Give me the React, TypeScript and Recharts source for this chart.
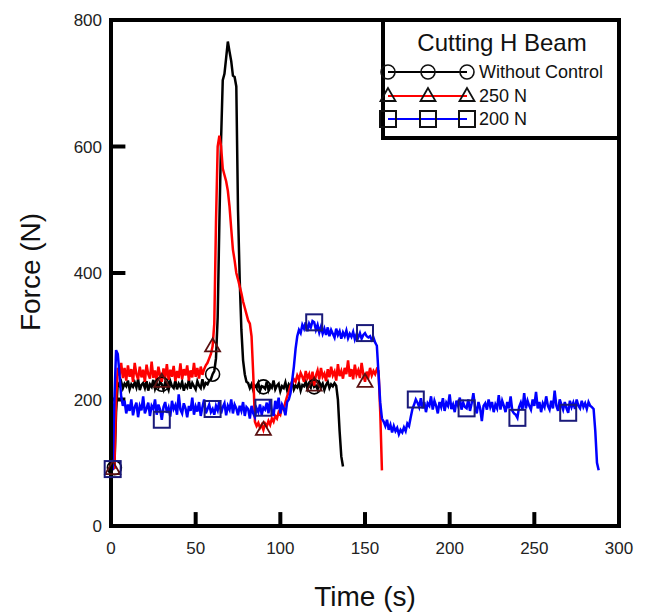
import React from 'react';
import { LineChart, Line, XAxis, YAxis, ReferenceArea, ReferenceLine, Customized } from 'recharts';

const xTicks = [0, 50, 100, 150, 200, 250, 300];
const yTicks = [0, 200, 400, 600, 800];
const xInnerTicks = [50, 100, 150, 200, 250];
const yInnerTicks = [200, 400, 600];

const blackPairs: [number, number][] = [
  [0, 90], [1, 90], [2, 92], [3, 180], [4, 226], [5, 222], [6, 228], [7, 218], [8, 225], [9, 221],
  [10, 230], [11, 216], [12, 224], [13, 220], [14, 227], [15, 219], [16, 232], [17, 215], [18, 223], [19, 226],
  [20, 218], [21, 229], [22, 214], [23, 224], [24, 220], [25, 231], [26, 217], [27, 225], [28, 219], [29, 228],
  [30, 224], [31, 216], [32, 227], [33, 222], [34, 215], [35, 229], [36, 221], [37, 218], [38, 230], [39, 216],
  [40, 225], [41, 220], [42, 228], [43, 214], [44, 223], [45, 219], [46, 231], [47, 217], [48, 226], [49, 221],
  [50, 216], [51, 229], [52, 222], [53, 218], [54, 232], [55, 220], [56, 226], [57, 224], [58, 230], [59, 232],
  [60, 240], [61, 245], [62, 265], [63, 330], [64, 480], [65, 610], [66, 705], [67, 715], [68, 740], [69, 766],
  [70, 750], [71, 735], [72, 712], [73, 710], [74, 695], [75, 500], [76, 390], [77, 310], [78, 262], [79, 240],
  [80, 228], [81, 226], [82, 218], [83, 224], [84, 215], [85, 222], [86, 219], [87, 226], [88, 214], [89, 221],
  [90, 220], [91, 217], [92, 228], [93, 215], [94, 223], [95, 219], [96, 230], [97, 216], [98, 222], [99, 225],
  [100, 213], [101, 221], [102, 218], [103, 227], [104, 215], [105, 224], [106, 220], [107, 229], [108, 216], [109, 222],
  [110, 219], [111, 226], [112, 214], [113, 223], [114, 221], [115, 228], [116, 217], [117, 224], [118, 219], [119, 230],
  [120, 220], [121, 222], [122, 216], [123, 227], [124, 220], [125, 225], [126, 215], [127, 223], [128, 228], [129, 218],
  [130, 224], [131, 221], [132, 226], [133, 222], [134, 200], [135, 150], [136, 110], [137, 94],
];

const redPairs: [number, number][] = [
  [0, 90], [1, 90], [2, 92], [3, 200], [4, 250], [5, 238], [6, 258], [7, 234], [8, 250], [9, 230],
  [10, 254], [11, 236], [12, 248], [13, 228], [14, 258], [15, 240], [16, 232], [17, 252], [18, 235], [19, 247],
  [20, 228], [21, 255], [22, 240], [23, 233], [24, 260], [25, 234], [26, 246], [27, 229], [28, 252], [29, 238],
  [30, 228], [31, 249], [32, 234], [33, 256], [34, 231], [35, 247], [36, 236], [37, 253], [38, 229], [39, 245],
  [40, 234], [41, 257], [42, 232], [43, 248], [44, 238], [45, 254], [46, 230], [47, 246], [48, 235], [49, 258],
  [50, 236], [51, 250], [52, 233], [53, 252], [54, 239], [55, 248], [56, 254], [57, 258], [58, 265], [59, 272],
  [60, 284], [61, 320], [62, 480], [63, 600], [64, 617], [65, 600], [66, 565], [67, 555], [68, 545], [69, 530],
  [70, 505], [71, 470], [72, 437], [73, 420], [74, 400], [75, 390], [76, 379], [77, 368], [78, 355], [79, 345],
  [80, 335], [81, 325], [82, 320], [83, 300], [84, 240], [85, 165], [86, 158], [87, 163], [88, 155], [89, 160],
  [90, 152], [91, 162], [92, 158], [93, 166], [94, 160], [95, 170], [96, 165], [97, 174], [98, 170], [99, 180],
  [100, 176], [101, 188], [102, 185], [103, 196], [104, 205], [105, 212], [106, 222], [107, 226], [108, 232], [109, 228],
  [110, 238], [111, 232], [112, 242], [113, 236], [114, 228], [115, 245], [116, 234], [117, 240], [118, 226], [119, 244],
  [120, 222], [121, 238], [122, 246], [123, 232], [124, 250], [125, 236], [126, 241], [127, 229], [128, 248], [129, 235],
  [130, 252], [131, 238], [132, 244], [133, 230], [134, 256], [135, 237], [136, 245], [137, 233], [138, 250], [139, 240],
  [140, 262], [141, 236], [142, 248], [143, 232], [144, 255], [145, 239], [146, 246], [147, 234], [148, 258], [149, 240],
  [150, 228], [151, 244], [152, 236], [153, 250], [154, 238], [155, 245], [156, 240], [157, 248], [158, 245], [159, 180],
  [160, 88],
];

const bluePairs: [number, number][] = [
  [0, 90], [1, 90], [2, 200], [3, 278], [4, 272], [5, 240], [6, 205], [7, 190], [8, 198], [9, 178],
  [10, 192], [11, 182], [12, 200], [13, 175], [14, 188], [15, 195], [16, 172], [17, 190], [18, 183], [19, 205],
  [20, 178], [21, 186], [22, 195], [23, 174], [24, 190], [25, 185], [26, 200], [27, 176], [28, 192], [29, 184],
  [30, 168], [31, 188], [32, 196], [33, 179], [34, 187], [35, 173], [36, 198], [37, 185], [38, 191], [39, 176],
  [40, 208], [41, 184], [42, 178], [43, 194], [44, 186], [45, 172], [46, 190], [47, 182], [48, 203], [49, 176],
  [50, 189], [51, 181], [52, 196], [53, 174], [54, 188], [55, 200], [56, 178], [57, 185], [58, 192], [59, 180],
  [60, 185], [61, 176], [62, 190], [63, 183], [64, 198], [65, 178], [66, 188], [67, 194], [68, 175], [69, 190],
  [70, 184], [71, 200], [72, 178], [73, 192], [74, 186], [75, 175], [76, 190], [77, 182], [78, 196], [79, 174],
  [80, 188], [81, 185], [82, 170], [83, 190], [84, 178], [85, 172], [86, 186], [87, 180], [88, 192], [89, 176],
  [90, 187], [91, 184], [92, 195], [93, 178], [94, 200], [95, 182], [96, 174], [97, 198], [98, 185], [99, 203],
  [100, 178], [101, 192], [102, 186], [103, 175], [104, 196], [105, 200], [106, 210], [107, 230], [108, 252], [109, 280],
  [110, 300], [111, 310], [112, 305], [113, 318], [114, 312], [115, 322], [116, 308], [117, 320], [118, 314], [119, 324],
  [120, 322], [121, 310], [122, 318], [123, 306], [124, 315], [125, 304], [126, 312], [127, 302], [128, 314], [129, 300],
  [130, 310], [131, 304], [132, 298], [133, 312], [134, 302], [135, 308], [136, 296], [137, 306], [138, 300], [139, 309],
  [140, 297], [141, 304], [142, 299], [143, 307], [144, 295], [145, 303], [146, 298], [147, 305], [148, 296], [149, 302],
  [150, 305], [151, 300], [152, 298], [153, 300], [154, 294], [155, 298], [156, 290], [157, 285], [158, 240], [159, 195],
  [160, 170], [161, 165], [162, 158], [163, 168], [164, 152], [165, 160], [166, 148], [167, 158], [168, 150], [169, 155],
  [170, 145], [171, 152], [172, 148], [173, 156], [174, 150], [175, 162], [176, 158], [177, 172], [178, 185], [179, 192],
  [180, 200], [181, 195], [182, 188], [183, 202], [184, 186], [185, 196], [186, 180], [187, 194], [188, 190], [189, 205],
  [190, 184], [191, 198], [192, 190], [193, 178], [194, 196], [195, 188], [196, 202], [197, 182], [198, 195], [199, 190],
  [200, 208], [201, 185], [202, 192], [203, 180], [204, 198], [205, 190], [206, 203], [207, 184], [208, 195], [209, 188],
  [210, 186], [211, 200], [212, 182], [213, 194], [214, 210], [215, 188], [216, 178], [217, 196], [218, 186], [219, 166],
  [220, 190], [221, 194], [222, 184], [223, 200], [224, 188], [225, 196], [226, 180], [227, 192], [228, 186], [229, 207],
  [230, 184], [231, 198], [232, 190], [233, 180], [234, 196], [235, 186], [236, 205], [237, 182], [238, 178], [239, 176],
  [240, 171], [241, 188], [242, 195], [243, 184], [244, 210], [245, 186], [246, 198], [247, 190], [248, 184], [249, 200],
  [250, 190], [251, 212], [252, 186], [253, 196], [254, 180], [255, 194], [256, 188], [257, 205], [258, 190], [259, 184],
  [260, 198], [261, 186], [262, 214], [263, 190], [264, 182], [265, 200], [266, 192], [267, 184], [268, 196], [269, 186],
  [270, 179], [271, 198], [272, 188], [273, 195], [274, 185], [275, 200], [276, 190], [277, 186], [278, 198], [279, 188],
  [280, 194], [281, 185], [282, 196], [283, 190], [284, 188], [285, 185], [286, 150], [287, 100], [288, 88],
];

const blackMarkers = [2, 30, 60, 90, 120];
const redMarkers = [1, 30, 60, 90, 120, 150];
const blueMarkers = [1, 30, 60, 90, 120, 150, 180, 210, 240, 270];

const toData = (pairs: [number, number][]) => pairs.map(([t, v]) => ({ t, v }));
const blackData = toData(blackPairs);
const redData = toData(redPairs);
const blueData = toData(bluePairs);

const FONT = '"Liberation Sans", Arial, sans-serif';
const CIRCLE_C = '#000000';
const TRI_C = '#5a1010';
const SQ_C = '#1a1a7a';

const circleShape = (cx: number, cy: number, key?: any, color: string = CIRCLE_C) => (
  <circle key={key} cx={cx} cy={cy} r={7} fill="none" stroke={color} strokeWidth={1.6} />
);
const triShape = (cx: number, cy: number, key?: any, color: string = TRI_C) => (
  <polygon key={key} points={`${cx},${cy - 8} ${cx - 7.5},${cy + 5} ${cx + 7.5},${cy + 5}`} fill="none" stroke={color} strokeWidth={1.8} />
);
const squareShape = (cx: number, cy: number, key?: any, color: string = SQ_C) => (
  <rect key={key} x={cx - 8} y={cy - 8} width={16} height={16} fill="none" stroke={color} strokeWidth={2} />
);

const makeDot = (marks: number[], shape: (x: number, y: number, k?: any) => React.ReactElement) => (props: any) => {
  const { cx, cy, payload, index } = props;
  if (payload && marks.includes(payload.t) && cx != null && cy != null) {
    return shape(cx, cy, `m-${index}`);
  }
  return <g key={`e-${index}`} />;
};

const XTick = (props: any) => {
  const { x, y, payload } = props;
  return (
    <text x={x} y={y + 28} textAnchor="middle" fontSize={17} fontFamily={FONT} fill="#222">{payload.value}</text>
  );
};

const YTick = (props: any) => {
  const { x, y, payload } = props;
  return (
    <text x={x - 9} y={y + 6} textAnchor="end" fontSize={17} fontFamily={FONT} fill="#222">{payload.value}</text>
  );
};

const Decorations = () => {
  const bx = 375, by = 12, bw = 236, bh = 118;
  const rows = [
    { label: 'Without Control', color: '#000000', shape: circleShape, y: 64 },
    { label: '250 N', color: '#ff0000', shape: triShape, y: 88 },
    { label: '200 N', color: '#0000ff', shape: squareShape, y: 111 },
  ];
  return (
    <g>
      <rect x={bx} y={by} width={bw} height={bh} fill="#fff" stroke="#000" strokeWidth={4} />
      <text x={494} y={43} textAnchor="middle" fontSize={24} fontFamily={FONT} fill="#111">Cutting H Beam</text>
      {rows.map((r, i) => (
        <g key={i}>
          <line x1={380} y1={r.y} x2={459} y2={r.y} stroke={r.color} strokeWidth={2} />
          {r.shape(380, r.y, 'a', '#111')}
          {r.shape(420, r.y, 'b', '#111')}
          {r.shape(459, r.y, 'c', '#111')}
          <text x={471} y={r.y + 6} fontSize={18} fontFamily={FONT} fill="#111">{r.label}</text>
        </g>
      ))}
      <text x={22} y={264} transform="rotate(-90 22 264)" textAnchor="middle" dominantBaseline="central" fontSize={28} fontFamily={FONT} fill="#111">Force (N)</text>
      <text x={357} y={598} textAnchor="middle" fontSize={28} fontFamily={FONT} fill="#111">Time (s)</text>
    </g>
  );
};

export default function App() {
  return (
    <LineChart width={630} height={604} margin={{ top: 12, right: 19, bottom: 16, left: 0 }}>
      <XAxis
        dataKey="t"
        type="number"
        domain={[0, 300]}
        ticks={xTicks}
        allowDuplicatedCategory={false}
        tickSize={0}
        tickMargin={0}
        tick={<XTick />}
        axisLine={{ stroke: '#000', strokeWidth: 4 }}
        height={70}
        interval={0}
      />
      <YAxis
        type="number"
        domain={[0, 800]}
        ticks={yTicks}
        tickSize={0}
        tickMargin={0}
        tick={<YTick />}
        axisLine={{ stroke: '#000', strokeWidth: 4 }}
        width={103}
        interval={0}
      />
      {xInnerTicks.map((t) => (
        <ReferenceLine key={`xt${t}`} segment={[{ x: t, y: 0 }, { x: t, y: 22 }]} stroke="#000" strokeWidth={4} />
      ))}
      {yInnerTicks.map((v) => (
        <ReferenceLine key={`yt${v}`} segment={[{ x: 0, y: v }, { x: 8.5, y: v }]} stroke="#000" strokeWidth={4} />
      ))}
      <Line data={blackData} dataKey="v" stroke="#000000" strokeWidth={2.5} dot={makeDot(blackMarkers, circleShape)} isAnimationActive={false} type="linear" />
      <Line data={redData} dataKey="v" stroke="#ff0000" strokeWidth={2.5} dot={makeDot(redMarkers, triShape)} isAnimationActive={false} type="linear" />
      <Line data={blueData} dataKey="v" stroke="#0000ff" strokeWidth={2.5} dot={makeDot(blueMarkers, squareShape)} isAnimationActive={false} type="linear" />
      <ReferenceArea x1={0} x2={300} y1={0} y2={800} fill="none" stroke="#000" strokeWidth={4} ifOverflow="visible" />
      <Customized component={Decorations} />
    </LineChart>
  );
}
